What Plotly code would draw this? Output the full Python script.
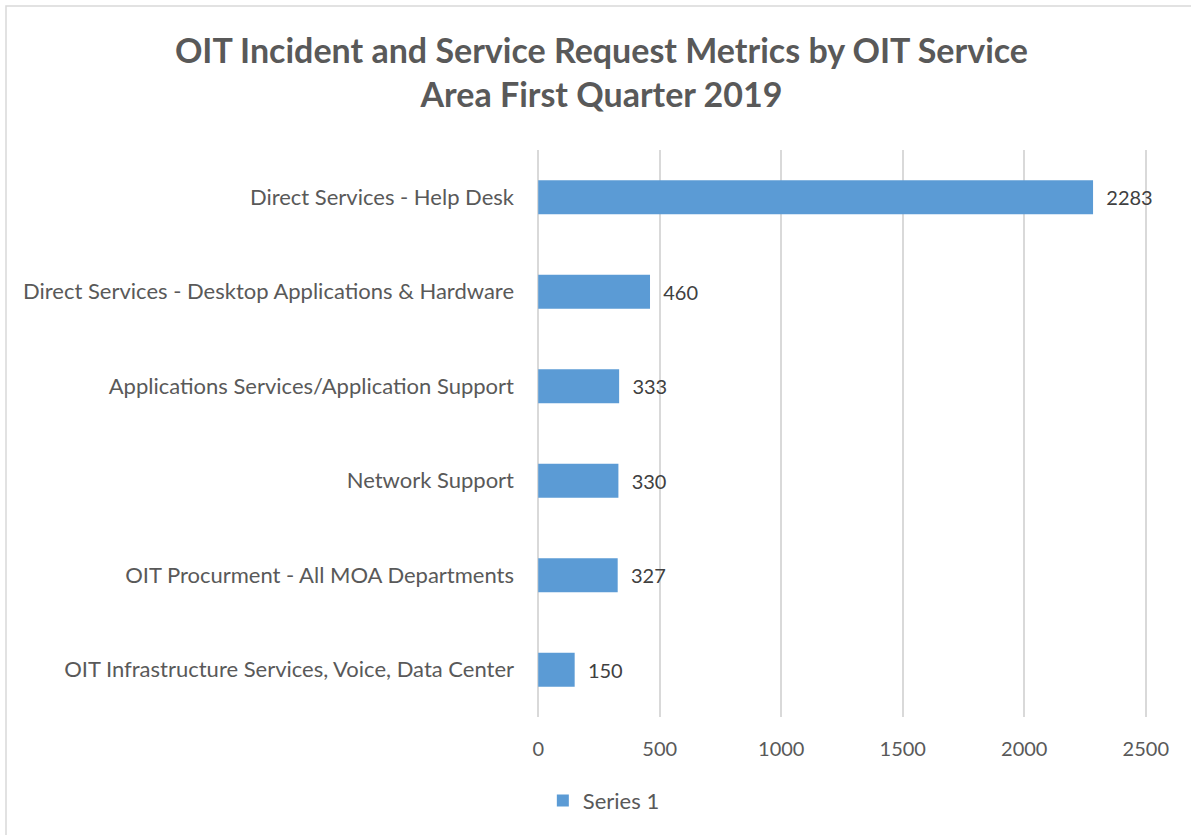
import plotly.graph_objects as go

categories = [
    "Direct Services - Help Desk",
    "Direct Services - Desktop Applications & Hardware",
    "Applications Services/Application Support",
    "Network Support",
    "OIT Procurment - All MOA Departments",
    "OIT Infrastructure Services, Voice, Data Center",
]
values = [2283, 460, 333, 330, 327, 150]
series_name = "Series 1"
x_ticks = [0, 500, 1000, 1500, 2000, 2500]

FONT = "Lato"
fig = go.Figure()
fig.add_trace(go.Bar(
    y=categories, x=values, orientation="h", name=series_name,
    marker=dict(color="#5B9BD5", line=dict(width=0)),
    text=values, texttemplate="  %{x}", textposition="outside",
    textfont=dict(family=FONT, size=20, color="#404040"),
    cliponaxis=False,
))

fig.update_layout(
    width=1191, height=835,
    paper_bgcolor="white", plot_bgcolor="white",
    margin=dict(l=537, r=44, t=150, b=118),
    bargap=0.64,
    showlegend=True,
    title=dict(
        text="OIT Incident and Service Request Metrics by OIT Service<br>Area First Quarter 2019",
        x=0.505, xref="container", xanchor="center",
        y=0.925, yref="container", yanchor="middle",
        font=dict(family=FONT, size=34, color="#595959", weight="bold"),
    ),
    legend=dict(
        orientation="h", x=0.507, xref="container", xanchor="center",
        y=0.041, yref="container", yanchor="middle",
        font=dict(family=FONT, size=22, color="#595959"),
    ),
    xaxis=dict(
        range=[-5, 2505], tickvals=x_ticks, showgrid=True,
        gridcolor="#D9D9D9", gridwidth=1.5, zeroline=False,
        showline=False, ticks="", ticklabelstandoff=18,
        tickfont=dict(family=FONT, size=20, color="#595959"),
    ),
    yaxis=dict(
        categoryorder="array", categoryarray=categories[::-1],
        showgrid=False, zeroline=False, showline=False, ticks="",
        ticklabelstandoff=22,
        tickfont=dict(family=FONT, size=22, color="#595959"),
    ),
    shapes=[dict(type="rect", xref="paper", yref="paper",
                 x0=-531/610, x1=1.3, y0=-0.4, y1=1 + 144/567,
                 line=dict(color="#D9D9D9", width=1.5), fillcolor="rgba(0,0,0,0)")],
)
fig.write_html("out.html", config={"displayModeBar": False},
               post_script="document.body.style.margin='0px';")
